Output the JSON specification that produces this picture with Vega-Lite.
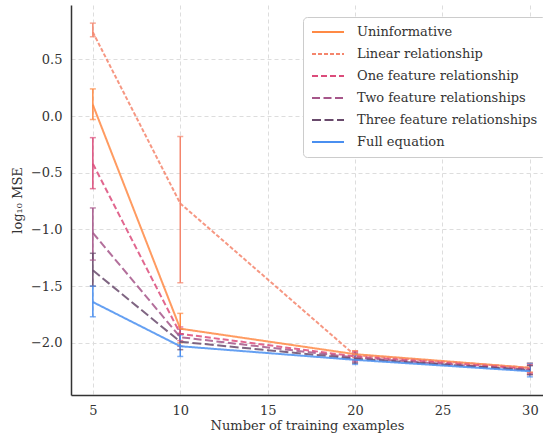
{
  "$schema": "https://vega.github.io/schema/vega-lite/v6.json",
  "autosize": "none",
  "padding": {"left": 71, "top": 5, "right": 0, "bottom": 43},
  "width": 472,
  "height": 390,
  "data": {"values": [
    {"series": "Uninformative", "n": 5, "mean": 0.10, "lo": -0.03, "hi": 0.24},
    {"series": "Uninformative", "n": 10, "mean": -1.875, "lo": -2.0, "hi": -1.74},
    {"series": "Uninformative", "n": 20, "mean": -2.10, "lo": -2.13, "hi": -2.07},
    {"series": "Uninformative", "n": 30, "mean": -2.22, "lo": -2.26, "hi": -2.18},
    {"series": "Linear relationship", "n": 5, "mean": 0.74, "lo": 0.70, "hi": 0.82},
    {"series": "Linear relationship", "n": 10, "mean": -0.77, "lo": -1.47, "hi": -0.18},
    {"series": "Linear relationship", "n": 20, "mean": -2.11, "lo": -2.15, "hi": -2.07},
    {"series": "Linear relationship", "n": 30, "mean": -2.22, "lo": -2.26, "hi": -2.18},
    {"series": "One feature relationship", "n": 5, "mean": -0.42, "lo": -0.64, "hi": -0.19},
    {"series": "One feature relationship", "n": 10, "mean": -1.92, "lo": -1.98, "hi": -1.86},
    {"series": "One feature relationship", "n": 20, "mean": -2.12, "lo": -2.16, "hi": -2.08},
    {"series": "One feature relationship", "n": 30, "mean": -2.23, "lo": -2.27, "hi": -2.19},
    {"series": "Two feature relationships", "n": 5, "mean": -1.03, "lo": -1.27, "hi": -0.81},
    {"series": "Two feature relationships", "n": 10, "mean": -1.95, "lo": -2.03, "hi": -1.88},
    {"series": "Two feature relationships", "n": 20, "mean": -2.13, "lo": -2.17, "hi": -2.09},
    {"series": "Two feature relationships", "n": 30, "mean": -2.24, "lo": -2.28, "hi": -2.20},
    {"series": "Three feature relationships", "n": 5, "mean": -1.36, "lo": -1.50, "hi": -1.21},
    {"series": "Three feature relationships", "n": 10, "mean": -1.99, "lo": -2.06, "hi": -1.92},
    {"series": "Three feature relationships", "n": 20, "mean": -2.14, "lo": -2.18, "hi": -2.10},
    {"series": "Three feature relationships", "n": 30, "mean": -2.24, "lo": -2.28, "hi": -2.20},
    {"series": "Full equation", "n": 5, "mean": -1.64, "lo": -1.77, "hi": -1.50},
    {"series": "Full equation", "n": 10, "mean": -2.03, "lo": -2.12, "hi": -1.93},
    {"series": "Full equation", "n": 20, "mean": -2.15, "lo": -2.19, "hi": -2.11},
    {"series": "Full equation", "n": 30, "mean": -2.25, "lo": -2.30, "hi": -2.18}
  ]},
  "encoding": {
    "x": {"field": "n", "type": "quantitative",
      "scale": {"domain": [3.75, 30.75], "nice": false, "zero": false},
      "axis": {"values": [5, 10, 15, 20, 25, 30], "title": "Number of training examples", "format": "d"}},
    "color": {"field": "series", "type": "nominal",
      "scale": {"domain": ["Uninformative", "Linear relationship", "One feature relationship", "Two feature relationships", "Three feature relationships", "Full equation"],
        "range": ["#ff8a45", "#f4856c", "#dc4c7b", "#a6568a", "#694a6c", "#4a8ff0"]},
      "legend": {"title": null}}
  },
  "layer": [
    {
      "mark": {"type": "rule", "strokeWidth": 1.5},
      "encoding": {
        "y": {"field": "lo", "type": "quantitative"},
        "y2": {"field": "hi"}
      }
    },
    {
      "mark": {"type": "tick", "orient": "horizontal", "size": 6, "thickness": 1.5},
      "encoding": {"y": {"field": "lo", "type": "quantitative"}}
    },
    {
      "mark": {"type": "tick", "orient": "horizontal", "size": 6, "thickness": 1.5},
      "encoding": {"y": {"field": "hi", "type": "quantitative"}}
    },
    {
      "mark": {"type": "line", "strokeWidth": 2, "opacity": 0.85},
      "encoding": {
        "y": {"field": "mean", "type": "quantitative",
          "scale": {"domain": [-2.46, 0.98], "nice": false, "zero": false},
          "axis": {"values": [0.5, 0, -0.5, -1, -1.5, -2], "format": ".1f", "title": "log₁₀ MSE"}},
        "strokeDash": {"field": "series", "type": "nominal",
          "scale": {"domain": ["Uninformative", "Linear relationship", "One feature relationship", "Two feature relationships", "Three feature relationships", "Full equation"],
            "range": [[1, 0], [4, 2], [6, 3], [8, 3.5], [9, 3.5], [1, 0]]},
          "legend": {"title": null}}
      }
    }
  ],
  "config": {
    "font": "DejaVu Serif",
    "view": {"stroke": null},
    "axis": {
      "labelFont": "DejaVu Serif", "labelFontSize": 13, "labelColor": "#333",
      "titleFont": "DejaVu Serif", "titleFontSize": 13, "titleFontWeight": "normal", "titleColor": "#333",
      "domainColor": "#333", "domainWidth": 1.5, "ticks": false, "labelPadding": 9,
      "grid": true, "gridColor": "#dddddd", "gridDash": [4, 3], "gridWidth": 1
    },
    "axisY": {"titlePadding": 6},
    "axisX": {"titlePadding": 2},
    "legend": {
      "orient": "none", "legendX": 232, "legendY": 12,
      "symbolType": "stroke", "symbolSize": 1024, "symbolStrokeWidth": 2, "symbolOpacity": 1,
      "labelFont": "DejaVu Serif", "labelFontSize": 13, "labelColor": "#333",
      "clipHeight": 14, "rowPadding": 8, "labelOffset": 12, "labelLimit": 300,
      "padding": 8, "strokeColor": "#cccccc", "fillColor": "white", "cornerRadius": 4
    }
  }
}
